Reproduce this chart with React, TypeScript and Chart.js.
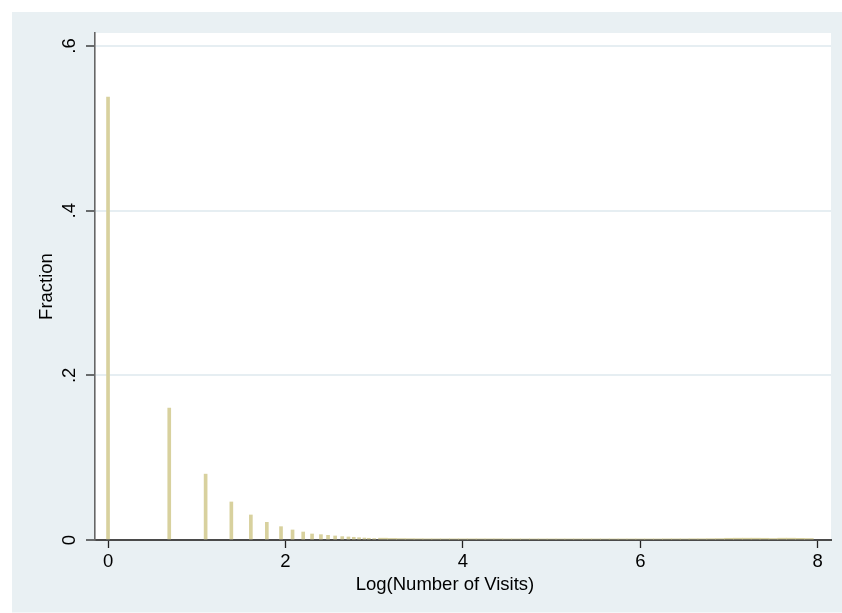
import { useEffect, useRef } from 'react';
import { Chart, registerables } from 'chart.js';

Chart.register(...registerables);

// Histogram bins (log of number of visits) and the fraction in each bin
const visitLogX = [0, 0.69, 1.1, 1.39, 1.61, 1.79, 1.95, 2.08, 2.2, 2.3, 2.4, 2.48, 2.56, 2.64, 2.71, 2.77, 2.83, 2.89, 2.94, 3.0];
const visitFraction = [0.538, 0.1603, 0.08, 0.0462, 0.0304, 0.0215, 0.0162, 0.0122, 0.0097, 0.0073, 0.0065, 0.0057, 0.0049, 0.0041, 0.0037, 0.0033, 0.0028, 0.0024, 0.0021, 0.0017];

// Long thin tail of tiny fractions
const tailLogX = [3.1, 3.2, 3.3, 3.4, 3.5, 3.6, 3.7, 3.8, 3.9, 4.0, 4.1, 4.2, 4.3, 4.4, 4.5, 4.6, 4.7, 4.8, 4.9, 5.0, 5.1, 5.2, 5.3, 5.4, 5.5, 5.6, 5.7, 5.8, 5.9, 6.0, 6.1, 6.2, 6.3, 6.4, 6.5, 6.6, 6.7, 6.8, 6.9, 7.0, 7.1, 7.2, 7.3, 7.4, 7.5, 7.6, 7.7, 7.8, 7.9];
const tailFraction = [0.0022, 0.0019, 0.0017, 0.0016, 0.0015, 0.0014, 0.0014, 0.0014, 0.0014, 0.0014, 0.0014, 0.0014, 0.0014, 0.0014, 0.0013, 0.0013, 0.0013, 0.0013, 0.0013, 0.0013, 0.0013, 0.0013, 0.0013, 0.0013, 0.0013, 0.0013, 0.0013, 0.0013, 0.0013, 0.0013, 0.0013, 0.0013, 0.0014, 0.0014, 0.0014, 0.0015, 0.0015, 0.0016, 0.0017, 0.0021, 0.0022, 0.0022, 0.0022, 0.0021, 0.0018, 0.0022, 0.0022, 0.002, 0.0018];

const xTickLabels = ['0', '2', '4', '6', '8'];
const yTickLabels = ['0', '.2', '.4', '.6'];

const xTitle = 'Log(Number of Visits)';
const yTitle = 'Fraction';

const FONT = "'Liberation Sans', Arial, Helvetica, sans-serif";
const FONT_SIZE = 18.5;
const BAR = '#d8d19e';

const bgPlugin = {
  id: 'statabg',
  beforeDraw(chart: any) {
    const { ctx, chartArea } = chart;
    ctx.save();
    ctx.fillStyle = '#ffffff';
    ctx.fillRect(0, 0, chart.width, chart.height);
    ctx.fillStyle = '#e9f0f3';
    ctx.fillRect(12, 12, chart.width - 12, chart.height - 12.5);
    ctx.fillStyle = '#ffffff';
    ctx.fillRect(chartArea.left, chartArea.top, chartArea.right - chartArea.left, chartArea.bottom - chartArea.top);
    ctx.restore();
  },
};

// Stata centres the x title on the whole graph region rather than on the plot
const xTitlePlugin = {
  id: 'xtitle',
  afterDraw(chart: any) {
    const { ctx, chartArea } = chart;
    const cx = (12 + chart.width) / 2 + (chartArea.left + chartArea.right) / 2;
    ctx.save();
    ctx.fillStyle = '#000000';
    ctx.font = `${FONT_SIZE}px ${FONT}`;
    ctx.textAlign = 'center';
    ctx.textBaseline = 'middle';
    ctx.fillText(xTitle, cx / 2, 585);
    ctx.restore();
  },
};

export default function App() {
  const ref = useRef<HTMLCanvasElement | null>(null);

  useEffect(() => {
    if (!ref.current) return;
    const chart = new Chart(ref.current, {
      type: 'bar',
      data: {
        datasets: [
          {
            data: visitLogX.map((x, i) => ({ x, y: visitFraction[i] })),
            backgroundColor: BAR,
            borderWidth: 0,
            barThickness: 3,
            grouped: false,
          } as any,
          {
            data: tailLogX.map((x, i) => ({ x, y: tailFraction[i] })),
            backgroundColor: BAR,
            borderWidth: 0,
            barThickness: 9,
            grouped: false,
          } as any,
        ],
      },
      options: {
        animation: false,
        responsive: false,
        devicePixelRatio: 1,
        layout: { padding: { top: 33, right: 11, left: 0, bottom: 0 } },
        plugins: { legend: { display: false }, tooltip: { enabled: false } },
        scales: {
          x: {
            type: 'linear',
            offset: false,
            min: -0.147,
            max: 8.15,
            afterFit: (s: any) => { s.height = 73; },
            grid: {
              display: true,
              offset: false,
              drawOnChartArea: false,
              drawTicks: true,
              tickLength: 8,
              tickColor: '#222222',
              tickWidth: 1.3,
            },
            border: { display: true, color: '#4a4a4a', width: 2 },
            ticks: {
              stepSize: 2,
              includeBounds: false,
              padding: 3,
              maxRotation: 0,
              minRotation: 0,
              color: '#000000',
              font: { family: FONT, size: FONT_SIZE },
              callback: (v: any) => xTickLabels[Math.round(Number(v) / 2)] ?? '',
            },
            title: { display: false, text: xTitle },
          },
          y: {
            type: 'linear',
            min: 0,
            max: 0.6158,
            afterFit: (s: any) => { s.width = 95; },
            grid: {
              display: true,
              color: '#e6eef2',
              lineWidth: 2,
              drawTicks: true,
              tickLength: 9,
              tickColor: '#222222',
              tickWidth: 1.3,
            },
            border: { display: true, color: '#666666', width: 1.6 },
            ticks: {
              stepSize: 0.2,
              includeBounds: false,
              padding: 8,
              minRotation: 90,
              maxRotation: 90,
              crossAlign: 'center',
              color: '#000000',
              font: { family: FONT, size: FONT_SIZE },
              callback: (v: any) => yTickLabels[Math.round(Number(v) / 0.2)] ?? '',
            },
            title: {
              display: true,
              text: yTitle,
              color: '#000000',
              font: { family: FONT, size: FONT_SIZE },
              padding: { top: 36, bottom: 0 },
            },
          },
        },
      } as any,
      plugins: [bgPlugin, xTitlePlugin],
    });
    return () => chart.destroy();
  }, []);

  return (
    <div style={{ position: 'absolute', left: 0, top: 0, width: 842, height: 613 }}>
      <canvas ref={ref} width={842} height={613} style={{ display: 'block', width: 842, height: 613 }} />
    </div>
  );
}
